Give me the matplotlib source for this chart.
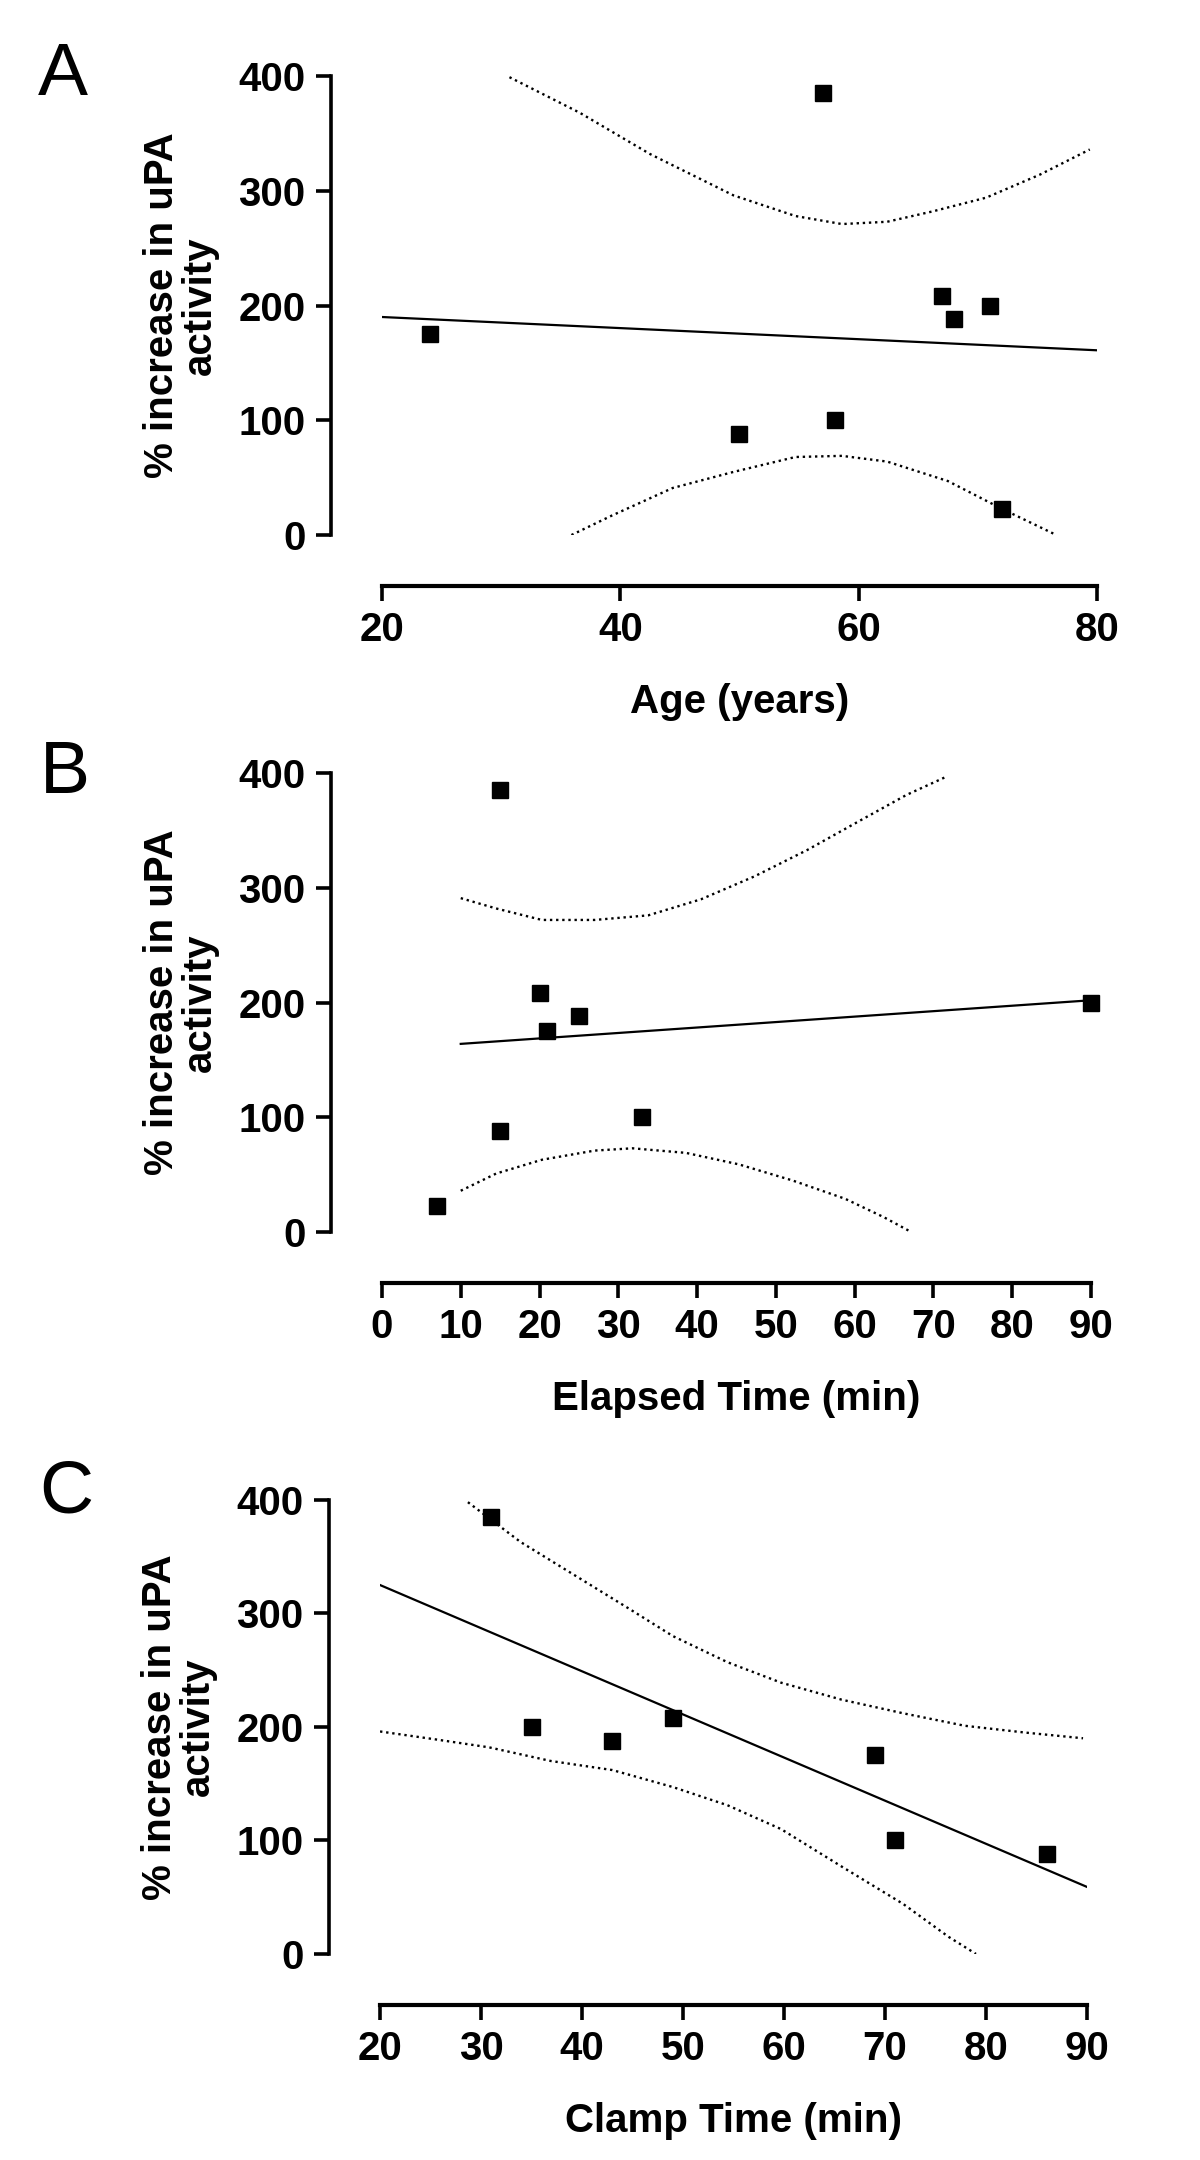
import matplotlib
matplotlib.use("Agg")
import matplotlib.pyplot as plt

plt.rcParams['font.family'] = ['Liberation Sans', 'DejaVu Sans']

# patient values (% increase in uPA activity)
upa_all = [175, 385, 208, 188, 200, 88, 100, 23]
age_years = [24, 57, 67, 68, 71, 50, 58, 72]
elapsed_min = [21, 15, 20, 25, 90, 15, 33, 7]
upa_clamp = [385, 200, 188, 208, 175, 100, 88]
clamp_min = [31, 35, 43, 49, 69, 71, 86]

# fitted lines
fit_a_x, fit_a_y = [20, 80], [190, 161]
fit_b_x, fit_b_y = [10, 90], [164, 202]
fit_c_x, fit_c_y = [20, 90], [325, 59]

# 95% confidence bands
ci_a_up_x = [30.7, 36.6, 42.5, 49.5, 54.7, 58.6, 62.4, 66.2, 70.7, 75.2, 79.4]
ci_a_up_y = [399, 368, 332, 296, 278, 271, 273, 282, 294, 314, 336]
ci_a_lo_x = [35.9, 39.3, 44.4, 49.5, 54.7, 58.6, 62.4, 67.5, 72, 76.4]
ci_a_lo_y = [0, 17, 41, 55, 68, 69, 64, 47, 23, 1]

ci_b_up_x = [10, 14.5, 20.3, 27, 33.8, 40.5, 47.3, 54, 60.8, 66.6, 71.7]
ci_b_up_y = [291, 282, 272, 272, 276, 290, 310, 333, 359, 381, 397]
ci_b_lo_x = [10, 14.5, 20.3, 27, 31.8, 38.6, 45.3, 52.1, 58.8, 63.7, 67.2]
ci_b_lo_y = [36, 51, 63, 71, 73, 69, 59, 45, 29, 13, 0]

ci_c_up_x = [28.7, 33.9, 39.2, 44.5, 49, 54.4, 59.7, 65.7, 71.8, 77.9, 83.9, 89.6]
ci_c_up_y = [398, 363, 334, 305, 280, 257, 239, 224, 212, 201, 195, 190]
ci_c_lo_x = [20, 25.5, 30.8, 36.9, 43, 49, 54.4, 59.7, 65.7, 71.8, 76.3, 79]
ci_c_lo_y = [196, 189, 182, 170, 162, 147, 131, 110, 77, 44, 15, 0]

y_ticks = [0, 100, 200, 300, 400]
ylabel = '% increase in uPA\nactivity'

fig = plt.figure(figsize=(12, 21.6), dpi=100)


def panel(rect, letter, letter_pos, x, y, fx, fy, up, lo, xlim, xticks, xlabel):
    ax = fig.add_axes(rect)
    ax.plot(up[0], up[1], color='black', lw=1.7, ls=(0, (1, 1.6)))
    ax.plot(lo[0], lo[1], color='black', lw=1.7, ls=(0, (1, 1.6)))
    ax.plot(fx, fy, color='black', lw=1.6)
    ax.plot(x, y, 's', color='black', markersize=12, clip_on=False)

    ax.set_xlim(*xlim)
    ax.set_ylim(0, 400)
    ax.set_xticks(xticks)
    ax.set_yticks(y_ticks)
    for s in ['top', 'right']:
        ax.spines[s].set_visible(False)
    ax.spines['left'].set_position(('outward', 37))
    ax.spines['bottom'].set_position(('outward', 37))
    ax.spines['left'].set_bounds(0, 400)
    ax.spines['bottom'].set_bounds(*xlim)
    ax.spines['left'].set_linewidth(2.6)
    ax.spines['bottom'].set_linewidth(3.0)
    ax.tick_params(direction='out', length=11, width=2.6, labelsize=29, pad=7)
    for lab in ax.get_xticklabels() + ax.get_yticklabels():
        lab.set_fontweight('bold')
    ax.set_xlabel(xlabel, fontsize=29, fontweight='bold', labelpad=24)
    ax.set_ylabel(ylabel, fontsize=29, fontweight='bold', labelpad=14,
                  linespacing=1.0)
    fig.text(letter_pos[0], letter_pos[1], letter, fontsize=54,
             ha='center', va='center')
    return ax


panel([0.3183, 0.7523, 0.5958, 0.2125], 'A', (0.052, 0.965),
      age_years, upa_all, fit_a_x, fit_a_y,
      (ci_a_up_x, ci_a_up_y), (ci_a_lo_x, ci_a_lo_y),
      (20, 80), [20, 40, 60, 80], 'Age (years)')

panel([0.3183, 0.4296, 0.5908, 0.2125], 'B', (0.054, 0.6417),
      elapsed_min, upa_all, fit_b_x, fit_b_y,
      (ci_b_up_x, ci_b_up_y), (ci_b_lo_x, ci_b_lo_y),
      (0, 90), list(range(0, 91, 10)), 'Elapsed Time (min)')

panel([0.3167, 0.0954, 0.5892, 0.2102], 'C', (0.055, 0.309),
      clamp_min, upa_clamp, fit_c_x, fit_c_y,
      (ci_c_up_x, ci_c_up_y), (ci_c_lo_x, ci_c_lo_y),
      (20, 90), list(range(20, 91, 10)), 'Clamp Time (min)')

fig.savefig('out.png', dpi=100)
